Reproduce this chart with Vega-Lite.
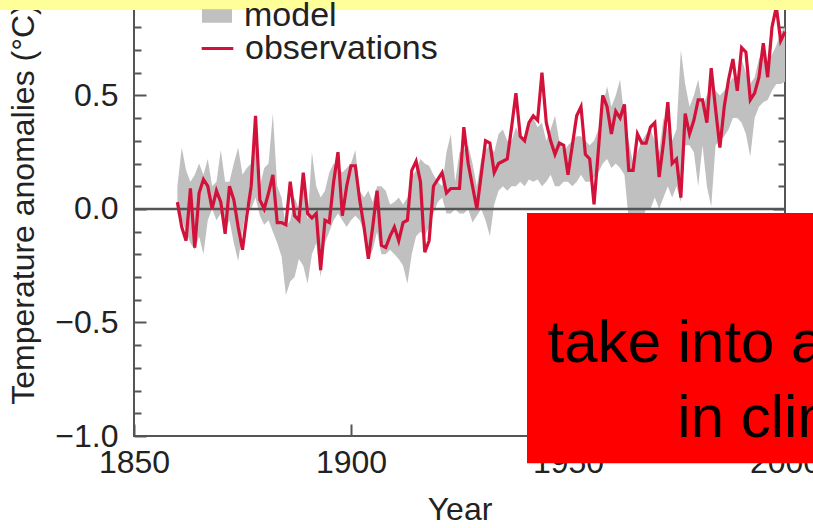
{
  "$schema": "https://vega.github.io/schema/vega-lite/v6.json",
  "width": 651,
  "height": 436,
  "autosize": {"type": "none"},
  "padding": {"left": 134, "top": 0, "right": 28, "bottom": 92},
  "background": "white",
  "config": {
    "view": {"stroke": "#555555", "strokeWidth": 2},
    "font": "Liberation Sans",
    "axis": {"labelFont": "Liberation Sans", "titleFont": "Liberation Sans", "labelFontSize": 32, "titleFontSize": 32, "labelColor": "#222222", "titleColor": "#222222", "titleFontWeight": "normal", "grid": false, "domain": false, "tickColor": "#555555", "tickWidth": 2, "labelFlush": false},
    "legend": {"orient": "none", "labelFont": "Liberation Sans", "labelFontSize": 34, "labelColor": "#222222", "padding": 0, "labelOffset": 10, "labelLimit": 500}
  },
  "datasets": {
    "temps": [
      {"year":1860,"obs":0.03,"lo":-0.02,"hi":0.10},
      {"year":1861,"obs":-0.08,"lo":-0.05,"hi":0.27},
      {"year":1862,"obs":-0.14,"lo":-0.10,"hi":0.17},
      {"year":1863,"obs":0.09,"lo":-0.15,"hi":0.12},
      {"year":1864,"obs":-0.17,"lo":-0.18,"hi":0.15},
      {"year":1865,"obs":0.07,"lo":-0.12,"hi":0.20},
      {"year":1866,"obs":0.13,"lo":-0.20,"hi":0.15},
      {"year":1867,"obs":0.10,"lo":-0.05,"hi":0.22},
      {"year":1868,"obs":0.00,"lo":0.00,"hi":0.10},
      {"year":1869,"obs":0.08,"lo":-0.05,"hi":0.12},
      {"year":1870,"obs":0.03,"lo":-0.02,"hi":0.26},
      {"year":1871,"obs":-0.11,"lo":-0.10,"hi":0.12},
      {"year":1872,"obs":0.10,"lo":-0.05,"hi":0.12},
      {"year":1873,"obs":0.04,"lo":-0.15,"hi":0.20},
      {"year":1874,"obs":-0.08,"lo":-0.23,"hi":0.27},
      {"year":1875,"obs":-0.18,"lo":-0.10,"hi":0.15},
      {"year":1876,"obs":-0.03,"lo":0.02,"hi":0.18},
      {"year":1877,"obs":0.10,"lo":0.00,"hi":0.20},
      {"year":1878,"obs":0.41,"lo":0.05,"hi":0.39},
      {"year":1879,"obs":0.04,"lo":-0.03,"hi":0.10},
      {"year":1880,"obs":0.00,"lo":-0.07,"hi":0.18},
      {"year":1881,"obs":0.07,"lo":-0.05,"hi":0.20},
      {"year":1882,"obs":0.15,"lo":-0.10,"hi":0.42},
      {"year":1883,"obs":-0.06,"lo":-0.15,"hi":0.10},
      {"year":1884,"obs":-0.06,"lo":-0.21,"hi":0.05},
      {"year":1885,"obs":-0.07,"lo":-0.38,"hi":-0.08},
      {"year":1886,"obs":0.12,"lo":-0.32,"hi":-0.05},
      {"year":1887,"obs":-0.03,"lo":-0.30,"hi":0.05},
      {"year":1888,"obs":-0.05,"lo":-0.22,"hi":0.00},
      {"year":1889,"obs":0.16,"lo":-0.25,"hi":0.16},
      {"year":1890,"obs":-0.02,"lo":-0.33,"hi":-0.05},
      {"year":1891,"obs":-0.04,"lo":-0.20,"hi":0.25},
      {"year":1892,"obs":-0.02,"lo":-0.15,"hi":0.10},
      {"year":1893,"obs":-0.27,"lo":-0.30,"hi":0.05},
      {"year":1894,"obs":-0.05,"lo":-0.15,"hi":0.08},
      {"year":1895,"obs":-0.06,"lo":-0.10,"hi":0.16},
      {"year":1896,"obs":0.12,"lo":-0.05,"hi":0.20},
      {"year":1897,"obs":0.25,"lo":-0.02,"hi":0.18},
      {"year":1898,"obs":-0.03,"lo":-0.05,"hi":0.16},
      {"year":1899,"obs":0.10,"lo":-0.08,"hi":0.18},
      {"year":1900,"obs":0.19,"lo":-0.05,"hi":0.20},
      {"year":1901,"obs":0.19,"lo":-0.03,"hi":0.26},
      {"year":1902,"obs":0.04,"lo":-0.05,"hi":0.08},
      {"year":1903,"obs":-0.08,"lo":-0.10,"hi":0.05},
      {"year":1904,"obs":-0.22,"lo":-0.22,"hi":0.08},
      {"year":1905,"obs":-0.08,"lo":-0.18,"hi":0.03},
      {"year":1906,"obs":0.08,"lo":-0.10,"hi":0.10},
      {"year":1907,"obs":-0.16,"lo":-0.20,"hi":0.10},
      {"year":1908,"obs":-0.17,"lo":-0.20,"hi":0.08},
      {"year":1909,"obs":-0.12,"lo":-0.18,"hi":0.02},
      {"year":1910,"obs":-0.08,"lo":-0.20,"hi":0.03},
      {"year":1911,"obs":-0.14,"lo":-0.22,"hi":0.05},
      {"year":1912,"obs":-0.06,"lo":-0.25,"hi":0.02},
      {"year":1913,"obs":-0.05,"lo":-0.33,"hi":0.05},
      {"year":1914,"obs":0.17,"lo":-0.20,"hi":0.14},
      {"year":1915,"obs":0.21,"lo":-0.12,"hi":0.17},
      {"year":1916,"obs":0.12,"lo":-0.10,"hi":0.22},
      {"year":1917,"obs":-0.19,"lo":-0.12,"hi":0.20},
      {"year":1918,"obs":-0.14,"lo":-0.08,"hi":0.19},
      {"year":1919,"obs":0.10,"lo":-0.02,"hi":0.15},
      {"year":1920,"obs":0.13,"lo":0.03,"hi":0.12},
      {"year":1921,"obs":0.16,"lo":0.05,"hi":0.10},
      {"year":1922,"obs":0.07,"lo":-0.02,"hi":0.25},
      {"year":1923,"obs":0.09,"lo":-0.02,"hi":0.33},
      {"year":1924,"obs":0.09,"lo":0.00,"hi":0.12},
      {"year":1925,"obs":0.09,"lo":-0.02,"hi":0.25},
      {"year":1926,"obs":0.36,"lo":-0.02,"hi":0.26},
      {"year":1927,"obs":0.20,"lo":0.00,"hi":0.28},
      {"year":1928,"obs":0.10,"lo":-0.06,"hi":0.20},
      {"year":1929,"obs":0.00,"lo":-0.03,"hi":0.10},
      {"year":1930,"obs":0.15,"lo":0.00,"hi":0.22},
      {"year":1931,"obs":0.30,"lo":-0.05,"hi":0.26},
      {"year":1932,"obs":0.29,"lo":-0.12,"hi":0.28},
      {"year":1933,"obs":0.16,"lo":0.02,"hi":0.25},
      {"year":1934,"obs":0.20,"lo":0.08,"hi":0.33},
      {"year":1935,"obs":0.21,"lo":0.10,"hi":0.35},
      {"year":1936,"obs":0.22,"lo":0.08,"hi":0.30},
      {"year":1937,"obs":0.36,"lo":0.10,"hi":0.30},
      {"year":1938,"obs":0.51,"lo":0.10,"hi":0.36},
      {"year":1939,"obs":0.32,"lo":0.12,"hi":0.32},
      {"year":1940,"obs":0.30,"lo":0.10,"hi":0.30},
      {"year":1941,"obs":0.38,"lo":0.13,"hi":0.38},
      {"year":1942,"obs":0.41,"lo":0.12,"hi":0.40},
      {"year":1943,"obs":0.39,"lo":0.13,"hi":0.36},
      {"year":1944,"obs":0.60,"lo":0.10,"hi":0.38},
      {"year":1945,"obs":0.38,"lo":0.12,"hi":0.30},
      {"year":1946,"obs":0.30,"lo":0.15,"hi":0.35},
      {"year":1947,"obs":0.24,"lo":0.10,"hi":0.41},
      {"year":1948,"obs":0.29,"lo":0.10,"hi":0.30},
      {"year":1949,"obs":0.28,"lo":0.12,"hi":0.25},
      {"year":1950,"obs":0.15,"lo":0.12,"hi":0.28},
      {"year":1951,"obs":0.28,"lo":0.10,"hi":0.30},
      {"year":1952,"obs":0.41,"lo":0.12,"hi":0.32},
      {"year":1953,"obs":0.45,"lo":0.15,"hi":0.32},
      {"year":1954,"obs":0.24,"lo":0.12,"hi":0.30},
      {"year":1955,"obs":0.22,"lo":0.12,"hi":0.28},
      {"year":1956,"obs":0.02,"lo":0.14,"hi":0.30},
      {"year":1957,"obs":0.26,"lo":0.16,"hi":0.35},
      {"year":1958,"obs":0.50,"lo":0.20,"hi":0.45},
      {"year":1959,"obs":0.45,"lo":0.22,"hi":0.54},
      {"year":1960,"obs":0.33,"lo":0.18,"hi":0.45},
      {"year":1961,"obs":0.43,"lo":0.20,"hi":0.50},
      {"year":1962,"obs":0.40,"lo":0.18,"hi":0.57},
      {"year":1963,"obs":0.46,"lo":0.15,"hi":0.40},
      {"year":1964,"obs":0.17,"lo":-0.05,"hi":0.30},
      {"year":1965,"obs":0.17,"lo":-0.10,"hi":0.20},
      {"year":1966,"obs":0.33,"lo":-0.05,"hi":0.25},
      {"year":1967,"obs":0.29,"lo":-0.05,"hi":0.30},
      {"year":1968,"obs":0.29,"lo":0.00,"hi":0.33},
      {"year":1969,"obs":0.36,"lo":0.00,"hi":0.35},
      {"year":1970,"obs":0.38,"lo":0.05,"hi":0.30},
      {"year":1971,"obs":0.14,"lo":0.00,"hi":0.25},
      {"year":1972,"obs":0.29,"lo":0.05,"hi":0.40},
      {"year":1973,"obs":0.47,"lo":0.10,"hi":0.35},
      {"year":1974,"obs":0.20,"lo":0.05,"hi":0.30},
      {"year":1975,"obs":0.22,"lo":0.10,"hi":0.35},
      {"year":1976,"obs":0.05,"lo":0.03,"hi":0.70},
      {"year":1977,"obs":0.42,"lo":0.28,"hi":0.55},
      {"year":1978,"obs":0.33,"lo":0.28,"hi":0.45},
      {"year":1979,"obs":0.39,"lo":0.25,"hi":0.50},
      {"year":1980,"obs":0.48,"lo":0.10,"hi":0.57},
      {"year":1981,"obs":0.48,"lo":0.28,"hi":0.45},
      {"year":1982,"obs":0.38,"lo":0.10,"hi":0.50},
      {"year":1983,"obs":0.62,"lo":0.01,"hi":0.55},
      {"year":1984,"obs":0.44,"lo":0.28,"hi":0.52},
      {"year":1985,"obs":0.27,"lo":0.30,"hi":0.50},
      {"year":1986,"obs":0.45,"lo":0.32,"hi":0.52},
      {"year":1987,"obs":0.57,"lo":0.35,"hi":0.55},
      {"year":1988,"obs":0.66,"lo":0.40,"hi":0.58},
      {"year":1989,"obs":0.52,"lo":0.40,"hi":0.55},
      {"year":1990,"obs":0.71,"lo":0.38,"hi":0.66},
      {"year":1991,"obs":0.69,"lo":0.33,"hi":0.60},
      {"year":1992,"obs":0.48,"lo":0.23,"hi":0.55},
      {"year":1993,"obs":0.51,"lo":0.40,"hi":0.58},
      {"year":1994,"obs":0.58,"lo":0.45,"hi":0.66},
      {"year":1995,"obs":0.73,"lo":0.47,"hi":0.70},
      {"year":1996,"obs":0.58,"lo":0.48,"hi":0.64},
      {"year":1997,"obs":0.80,"lo":0.52,"hi":0.68},
      {"year":1998,"obs":0.89,"lo":0.55,"hi":0.72},
      {"year":1999,"obs":0.74,"lo":0.55,"hi":0.78},
      {"year":2000,"obs":0.78,"lo":0.56,"hi":0.80}
    ]
  },
  "data": {"name": "temps"},
  "resolve": {"axis": {"x": "independent", "y": "independent"}},
  "layer": [
    {
      "mark": {"type": "area", "color": "#c0c0c0", "opacity": 1},
      "encoding": {
        "x": {"field": "year", "type": "quantitative", "scale": {"domain": [1850, 2000], "nice": false, "zero": false},
              "axis": {"orient": "bottom", "values": [1850, 1900, 1950, 2000], "format": "d", "ticks": false, "labelPadding": 11, "title": "Year", "titlePadding": 16}},
        "y": {"field": "lo", "type": "quantitative", "scale": {"domain": [-1, 0.92], "nice": false, "zero": false},
              "axis": {"orient": "left", "values": [-1, -0.5, 0, 0.5], "format": ".1f", "ticks": false, "labelPadding": 16, "title": "Temperature anomalies (°C)", "titleX": -94, "titleY": 204}},
        "y2": {"field": "hi"},
        "fill": {"datum": "model", "scale": {"domain": ["model"], "range": ["#c0c0c0"]},
                 "legend": {"title": null, "legendX": 66, "legendY": -1, "symbolType": "M-1,-0.45H1V0.45H-1Z", "symbolSize": 900, "symbolStrokeWidth": 0}}
      }
    },
    {
      "data": {"values": [{}]},
      "mark": {"type": "rule", "color": "#555555", "strokeWidth": 2.5},
      "encoding": {
        "y": {"datum": 0, "type": "quantitative", "scale": {"domain": [-1, 0.92], "nice": false, "zero": false},
              "axis": {"orient": "right", "offset": -651, "values": [-1, -0.5, 0, 0.5], "labels": false, "title": null, "tickSize": 12, "domain": false}}
      }
    },
    {
      "mark": {"type": "line", "color": "#d2123a", "strokeWidth": 3.2},
      "encoding": {
        "x": {"field": "year", "type": "quantitative", "scale": {"domain": [1850, 2000], "nice": false, "zero": false},
              "axis": {"orient": "top", "offset": -436, "values": [1850, 1900, 1950, 2000], "labels": false, "title": null, "tickSize": 12, "domain": false}},
        "y": {"field": "obs", "type": "quantitative", "scale": {"domain": [-1, 0.92], "nice": false, "zero": false},
              "axis": {"orient": "right", "offset": -651, "values": [-0.9, -0.8, -0.7, -0.6, -0.4, -0.3, -0.2, -0.1, 0.1, 0.2, 0.3, 0.4, 0.6, 0.7, 0.8, 0.9], "labels": false, "title": null, "tickSize": 7, "domain": false}},
        "stroke": {"datum": "observations", "scale": {"domain": ["observations"], "range": ["#d2123a"]},
                   "legend": {"title": null, "legendX": 66, "legendY": 31, "symbolType": "stroke", "symbolSize": 1000, "symbolStrokeWidth": 3}}
      }
    },
    {
      "data": {"values": [{}]},
      "mark": {"type": "rect", "color": "#ff0000"},
      "encoding": {
        "x": {"datum": 1940.55, "type": "quantitative", "scale": {"domain": [1850, 2000], "nice": false, "zero": false}, "axis": null},
        "x2": {"datum": 2012},
        "y": {"datum": -0.018, "type": "quantitative", "scale": {"domain": [-1, 0.92], "nice": false, "zero": false},
              "axis": {"orient": "left", "offset": -651, "values": [-1, -0.5, 0, 0.5], "labels": false, "title": null, "tickSize": 12, "domain": false}},
        "y2": {"datum": -1.12}
      }
    },
    {
      "data": {"values": [{}]},
      "mark": {"type": "text", "text": "take into account", "align": "left", "baseline": "alphabetic", "fontSize": 60, "font": "Liberation Sans", "color": "#000000"},
      "encoding": {
        "x": {"datum": 1945.3, "type": "quantitative", "scale": {"domain": [1850, 2000], "nice": false, "zero": false}, "axis": null},
        "y": {"datum": -0.674, "type": "quantitative", "scale": {"domain": [-1, 0.92], "nice": false, "zero": false},
              "axis": {"orient": "left", "offset": -651, "values": [-0.9, -0.8, -0.7, -0.6, -0.4, -0.3, -0.2, -0.1, 0.1, 0.2, 0.3, 0.4, 0.6, 0.7, 0.8, 0.9], "labels": false, "title": null, "tickSize": 7, "domain": false}}
      }
    },
    {
      "data": {"values": [{}]},
      "mark": {"type": "text", "text": "in climate", "align": "left", "baseline": "alphabetic", "fontSize": 60, "font": "Liberation Sans", "color": "#000000"},
      "encoding": {
        "x": {"datum": 1975.2, "type": "quantitative", "scale": {"domain": [1850, 2000], "nice": false, "zero": false}, "axis": null},
        "y": {"datum": -1.005, "type": "quantitative", "scale": {"domain": [-1, 0.92], "nice": false, "zero": false}, "axis": null}
      }
    },
    {
      "data": {"values": [{}]},
      "mark": {"type": "rect", "color": "#ffff99"},
      "encoding": {
        "x": {"datum": 1815, "type": "quantitative", "scale": {"domain": [1850, 2000], "nice": false, "zero": false}, "axis": null},
        "x2": {"datum": 2012},
        "y": {"datum": 0.876, "type": "quantitative", "scale": {"domain": [-1, 0.92], "nice": false, "zero": false}, "axis": null},
        "y2": {"datum": 0.96}
      }
    }
  ]
}
